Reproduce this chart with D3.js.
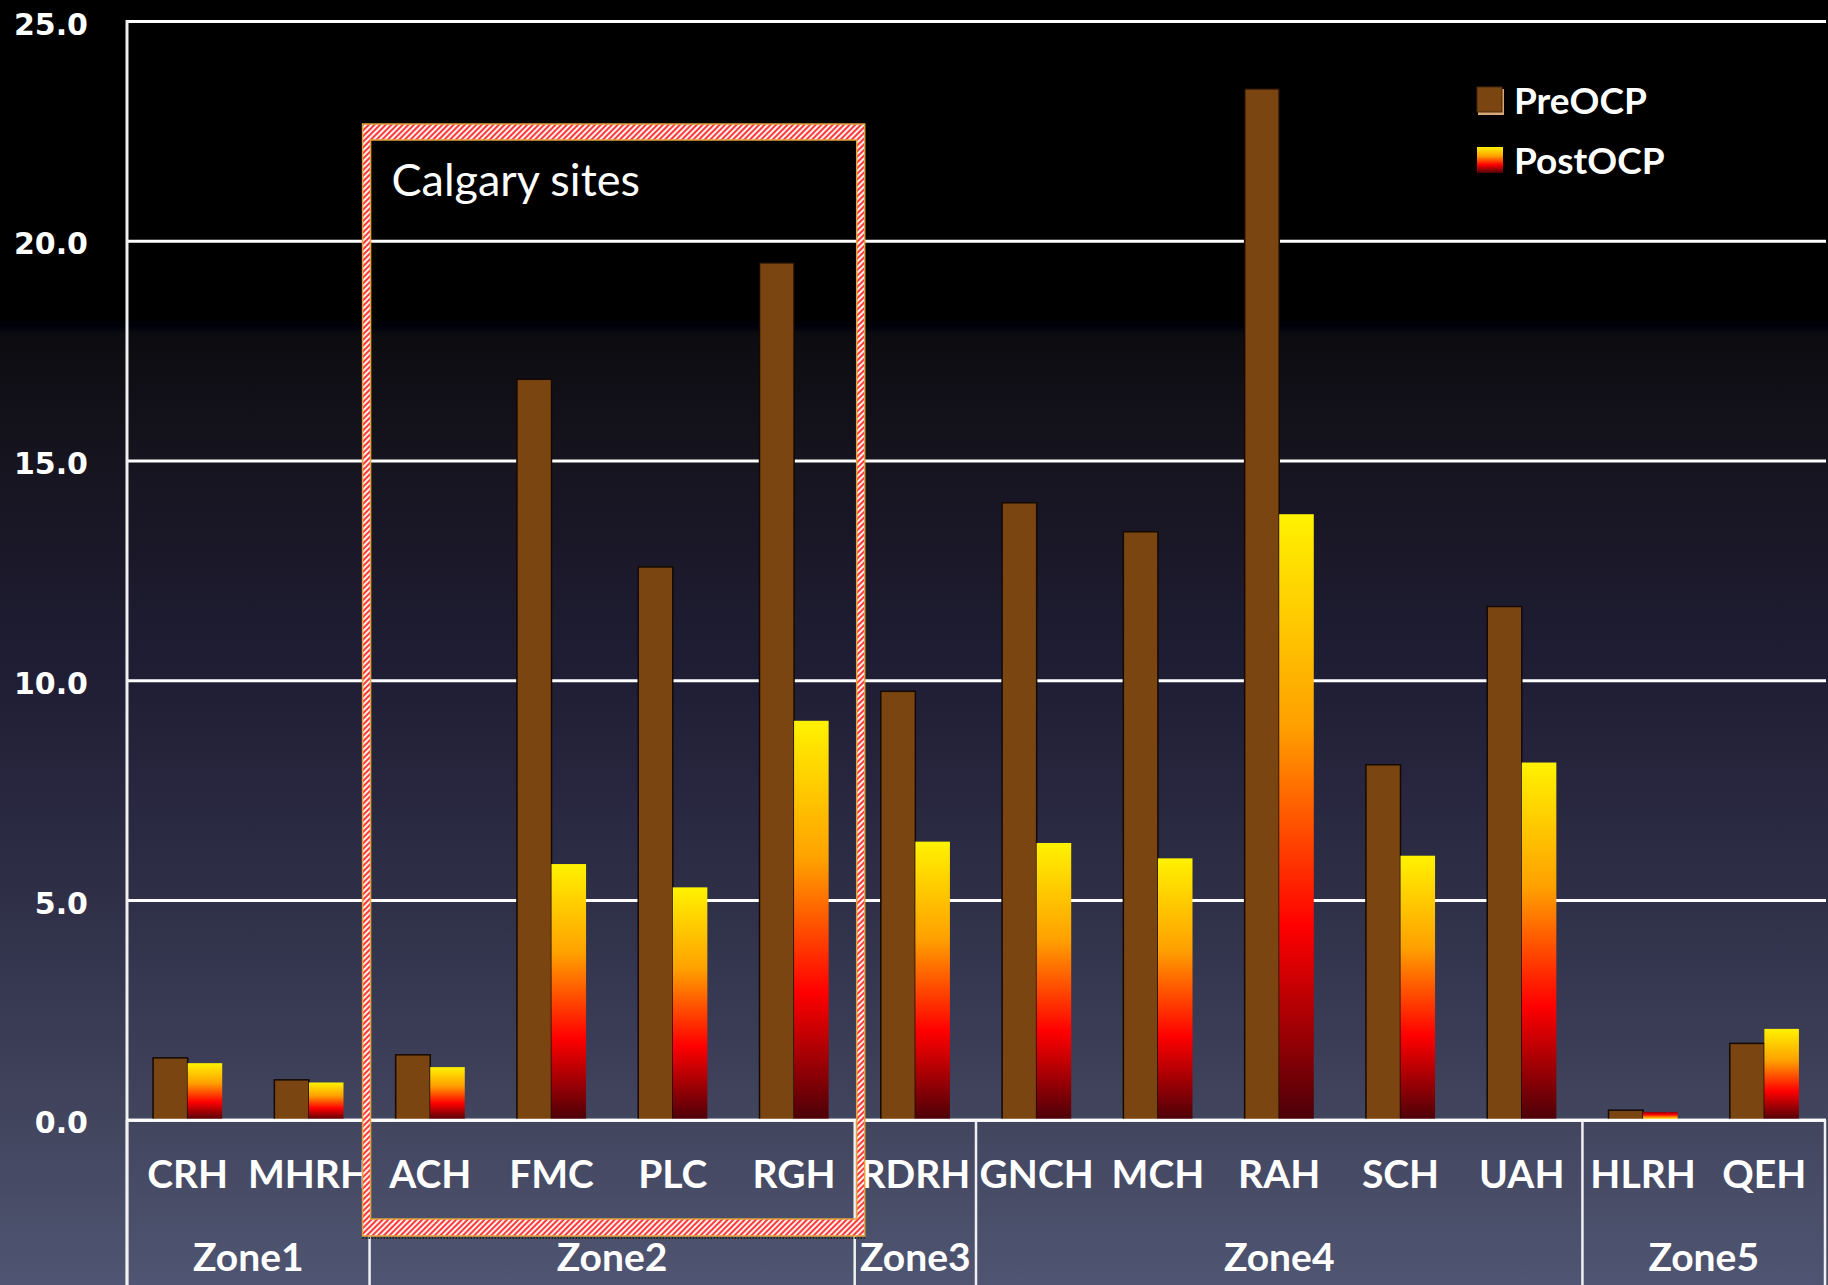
<!DOCTYPE html>
<html>
<head>
<meta charset="utf-8">
<script src="https://cdn.jsdelivr.net/npm/d3@7"></script>
<style>
  html, body { margin: 0; padding: 0; background: #000; }
  svg { display: block; }
</style>
</head>
<body>
<svg id="chart" width="1828" height="1285"></svg>
<script>
// ---- data ----
const categories = ["CRH","MHRH","ACH","FMC","PLC","RGH","RDRH","GNCH","MCH","RAH","SCH","UAH","HLRH","QEH"];
const zoneOf     = ["Zone1","Zone1","Zone2","Zone2","Zone2","Zone2","Zone3","Zone4","Zone4","Zone4","Zone4","Zone4","Zone5","Zone5"];
const zones      = ["Zone1","Zone2","Zone3","Zone4","Zone5"];
const seriesNames = ["PreOCP","PostOCP"];
const preOCP  = [1.42, 0.92, 1.49, 16.86, 12.59, 19.51, 9.76, 14.05, 13.39, 23.47, 8.09, 11.69, 0.23, 1.75];
const postOCP = [1.30, 0.86, 1.21, 5.83, 5.30, 9.09, 6.34, 6.31, 5.96, 13.79, 6.02, 8.14, 0.19, 2.08];
const yTicks  = [0, 5, 10, 15, 20, 25];
const highlightCats = ["ACH","FMC","PLC","RGH"];
const highlightLabel = "Calgary sites";

(function () {
// ---- layout ----
const W = 1828, H = 1285;
const pLeft = 127, pRight = 1825, pTop = 21.5, pBase = 1120.3;
const svg = d3.select("#chart");
const defs = svg.append("defs");

// background gradient
const bg = defs.append("linearGradient").attr("id","bg")
  .attr("gradientUnits","userSpaceOnUse").attr("x1",0).attr("y1",0).attr("x2",0).attr("y2",H);
[[0,"#000000"],[318/H,"#000000"],[326/H,"#00000c"],[334/H,"#0c0c10"],[460/H,"#16141f"],
 [680/H,"#201e35"],[900/H,"#2f2f48"],[1120/H,"#42455e"],[1,"#4f5572"]]
  .forEach(([o,c]) => bg.append("stop").attr("offset",o).attr("stop-color",c));
svg.append("rect").attr("width",W).attr("height",H).attr("fill","url(#bg)");

// post bar gradient (and its flipped version for very small bars)
const pg = defs.append("linearGradient").attr("id","postGrad").attr("x1",0).attr("y1",0).attr("x2",0).attr("y2",1);
[[0,"#fff200"],[0.35,"#ffa000"],[0.68,"#ff0000"],[1,"#4a0008"]]
  .forEach(([o,c]) => pg.append("stop").attr("offset",o).attr("stop-color",c));
const pgf = defs.append("linearGradient").attr("id","postGradFlip").attr("x1",0).attr("y1",1).attr("x2",0).attr("y2",0);
[[0,"#fff200"],[0.35,"#ffa000"],[0.68,"#ff0000"],[1,"#8a0008"]]
  .forEach(([o,c]) => pgf.append("stop").attr("offset",o).attr("stop-color",c));

// hatch pattern
const hatch = defs.append("pattern").attr("id","hatch").attr("patternUnits","userSpaceOnUse")
  .attr("width",4).attr("height",4).attr("patternTransform","rotate(45)");
hatch.append("rect").attr("width",4).attr("height",4).attr("fill","#fff0f0");
hatch.append("rect").attr("width",2).attr("height",4).attr("fill","#ff3a3a");

// scales
const x = d3.scaleBand().domain(categories).range([pLeft, pRight]).paddingInner(0.43).paddingOuter(0.215);
const xs = d3.scaleBand().domain(seriesNames).range([0, x.bandwidth()]);
const y = d3.scaleLinear().domain([0, 25]).range([pBase, pTop]);
const step = x.step();
const boundary = i => pLeft + i * step;

// gridlines
svg.append("g").selectAll("line").data(yTicks).join("line")
  .attr("x1", pLeft).attr("x2", pRight + 1)
  .attr("y1", d => y(d)).attr("y2", d => y(d))
  .attr("stroke", "#ffffff").attr("stroke-width", 3);

// left axis line
svg.append("line").attr("x1", pLeft).attr("x2", pLeft).attr("y1", pTop - 1.5).attr("y2", H)
  .attr("stroke", "#f0f0f0").attr("stroke-width", 3);

// y tick labels
svg.append("g").selectAll("text").data(yTicks).join("text")
  .attr("x", 88).attr("y", d => y(d) + 13)
  .attr("text-anchor", "end")
  .attr("font-family", "DejaVu Sans").attr("font-weight", "bold").attr("font-size", 30)
  .attr("fill", "#ffffff")
  .text(d => d3.format(".1f")(d));

// bars
const rows = categories.map((c, i) => ({ cat: c, pre: preOCP[i], post: postOCP[i] }));
const g = svg.append("g");
g.selectAll("rect.pre").data(rows).join("rect").attr("class","pre")
  .attr("x", d => x(d.cat) + xs("PreOCP"))
  .attr("y", d => y(d.pre))
  .attr("width", xs.bandwidth())
  .attr("height", d => pBase - y(d.pre))
  .attr("fill", "#7b4511").attr("stroke", "#140a02").attr("stroke-width", 1.5);
g.selectAll("rect.post").data(rows).join("rect").attr("class","post")
  .attr("x", d => x(d.cat) + xs("PostOCP"))
  .attr("y", d => y(d.post))
  .attr("width", xs.bandwidth())
  .attr("height", d => pBase - y(d.post))
  .attr("fill", d => d.post < 0.5 ? "url(#postGradFlip)" : "url(#postGrad)");

// baseline redraw on top
svg.append("line").attr("x1", pLeft).attr("x2", pRight + 1).attr("y1", pBase).attr("y2", pBase)
  .attr("stroke", "#ffffff").attr("stroke-width", 3);

// category labels
svg.append("g").selectAll("text").data(categories).join("text")
  .attr("x", d => x(d) + x.bandwidth() / 2).attr("y", 1188)
  .attr("text-anchor", "middle")
  .attr("font-family", "Lato").attr("font-weight", "bold").attr("font-size", 39)
  .attr("fill", "#ffffff").text(d => d);

// zone separators and labels
const zoneInfo = zones.map(z => {
  const idx = zoneOf.map((v, i) => v === z ? i : -1).filter(i => i >= 0);
  return { zone: z, start: d3.min(idx), end: d3.max(idx) + 1 };
});
const sepIdx = [0].concat(zoneInfo.map(z => z.end));
svg.append("g").selectAll("line").data(sepIdx).join("line")
  .attr("x1", i => boundary(i)).attr("x2", i => boundary(i))
  .attr("y1", pBase).attr("y2", H)
  .attr("stroke", "#f0f0f0").attr("stroke-width", 2.5);
svg.append("g").selectAll("text").data(zoneInfo).join("text")
  .attr("x", d => (boundary(d.start) + boundary(d.end)) / 2).attr("y", 1271)
  .attr("text-anchor", "middle")
  .attr("font-family", "Lato").attr("font-weight", "bold").attr("font-size", 39)
  .attr("fill", "#ffffff").text(d => d.zone);

// Calgary highlight frame
const hi0 = categories.indexOf(highlightCats[0]);
const hi1 = categories.indexOf(highlightCats[highlightCats.length - 1]) + 1;
const oL = boundary(hi0) - 7, oR = boundary(hi1) + 10, oT = 124, oB = 1236;
const iL = oL + 8, iR = oR - 8, iT = oT + 16, iB = oB - 17;
svg.append("line").attr("x1", oL).attr("x2", oR).attr("y1", oB + 2).attr("y2", oB + 2)
  .attr("stroke", "#222").attr("stroke-width", 2).attr("stroke-dasharray", "1.5,1.5");
svg.append("path")
  .attr("d", `M${oL},${oT}H${oR}V${oB}H${oL}Z M${iL},${iT}H${iR}V${iB}H${iL}Z`)
  .attr("fill", "url(#hatch)").attr("fill-rule", "evenodd")
  .attr("stroke", "#e3a23a").attr("stroke-width", 1.5);
svg.append("text").attr("x", oL + 29).attr("y", 196)
  .attr("font-family", "Lato").attr("font-size", 45).attr("fill", "#ffffff")
  .text(highlightLabel);

// legend
const leg = svg.append("g");
seriesNames.forEach((s, i) => {
  const ly = 87 + i * 60;
  if (s === "PreOCP") {
    leg.append("rect").attr("x", 1478).attr("y", ly + 2).attr("width", 26).attr("height", 26).attr("fill", "#d9a878");
    leg.append("rect").attr("x", 1477).attr("y", ly).attr("width", 25).attr("height", 25).attr("fill", "#7b4511")
      .attr("stroke", "#4a2806").attr("stroke-width", 1);
  } else {
    leg.append("rect").attr("x", 1477).attr("y", ly).attr("width", 26).attr("height", 26).attr("fill", "url(#postGrad)");
  }
  leg.append("text").attr("x", 1514).attr("y", ly + 27)
    .attr("font-family", "Lato").attr("font-weight", "bold").attr("font-size", 37)
    .attr("fill", "#ffffff").text(s);
});
})();
</script>
</body>
</html>
